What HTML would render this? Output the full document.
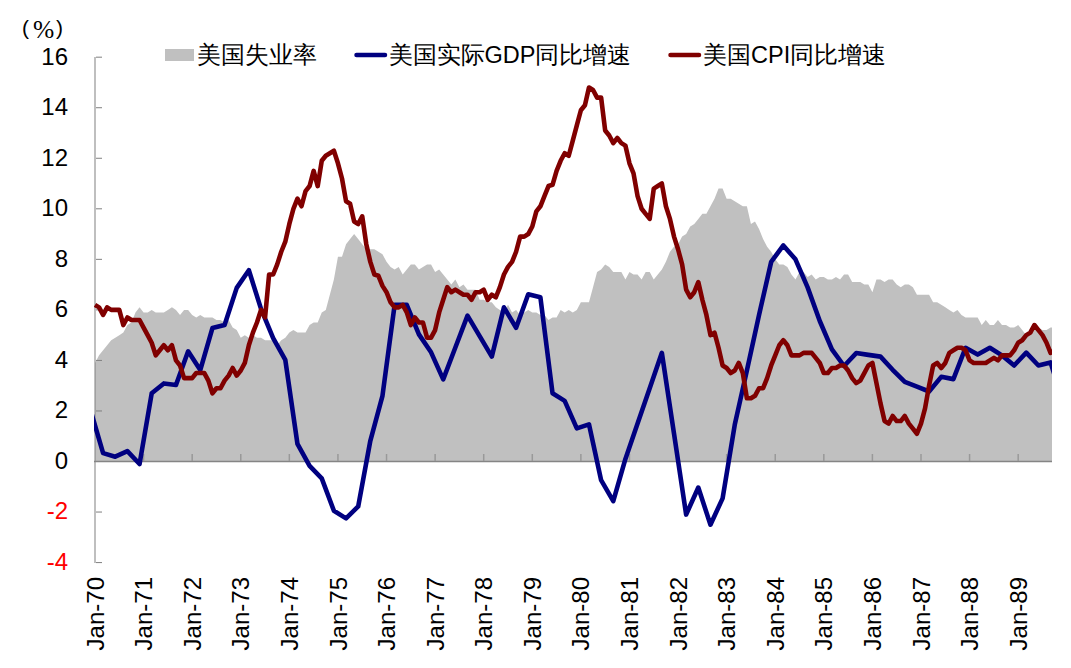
<!DOCTYPE html>
<html><head><meta charset="utf-8"><style>
html,body{margin:0;padding:0;background:#fff;}
body{width:1071px;height:668px;overflow:hidden;position:relative;font-family:"Liberation Sans",sans-serif;}
svg{position:absolute;left:0;top:0;}
svg text{font-family:"Liberation Sans",sans-serif;}
</style></head><body>
<svg width="1071" height="668" viewBox="0 0 1071 668">
<defs><clipPath id="pc"><rect x="94" y="40" width="958" height="560"/></clipPath></defs>
<path d="M95.00,461.50 L95.00,362.95 L99.05,355.37 L103.10,350.31 L107.15,345.26 L111.20,340.20 L115.25,337.68 L119.29,335.15 L123.34,332.62 L127.39,325.04 L131.44,322.51 L135.49,312.41 L139.54,307.35 L143.59,312.41 L147.64,312.41 L151.69,309.88 L155.74,312.41 L159.78,312.41 L163.83,312.41 L167.88,309.88 L171.93,307.35 L175.98,309.88 L180.03,314.93 L184.08,309.88 L188.13,309.88 L192.18,314.93 L196.23,317.46 L200.27,314.93 L204.32,317.46 L208.37,317.46 L212.42,317.46 L216.47,319.99 L220.52,319.99 L224.57,322.51 L228.62,319.99 L232.67,327.57 L236.72,330.10 L240.76,337.68 L244.81,335.15 L248.86,337.68 L252.91,335.15 L256.96,337.68 L261.01,337.68 L265.06,340.20 L269.11,340.20 L273.16,340.20 L277.21,345.26 L281.25,340.20 L285.30,337.68 L289.35,332.62 L293.40,330.10 L297.45,332.62 L301.50,332.62 L305.55,332.62 L309.60,325.04 L313.65,322.51 L317.70,322.51 L321.74,312.41 L325.79,309.88 L329.84,294.72 L333.89,279.56 L337.94,256.81 L341.99,256.81 L346.04,244.18 L350.09,239.12 L354.14,234.07 L358.19,239.12 L362.23,244.18 L366.28,249.23 L370.33,249.23 L374.38,249.23 L378.43,251.76 L382.48,254.29 L386.53,261.87 L390.58,266.92 L394.63,269.45 L398.68,266.92 L402.72,274.50 L406.77,269.45 L410.82,264.39 L414.87,264.39 L418.92,269.45 L422.97,266.92 L427.02,264.39 L431.07,264.39 L435.12,271.98 L439.17,269.45 L443.21,274.50 L447.26,279.56 L451.31,284.61 L455.36,279.56 L459.41,287.14 L463.46,284.61 L467.51,289.66 L471.56,289.66 L475.61,289.66 L479.66,299.77 L483.70,299.77 L487.75,302.30 L491.80,302.30 L495.85,307.35 L499.90,309.88 L503.95,312.41 L508.00,304.83 L512.05,312.41 L516.10,309.88 L520.14,314.93 L524.19,312.41 L528.24,309.88 L532.29,312.41 L536.34,312.41 L540.39,314.93 L544.44,314.93 L548.49,319.99 L552.54,317.46 L556.59,317.46 L560.63,309.88 L564.68,312.41 L568.73,309.88 L572.78,312.41 L576.83,309.88 L580.88,302.30 L584.93,302.30 L588.98,302.30 L593.03,287.14 L597.08,271.98 L601.12,269.45 L605.17,264.39 L609.22,266.92 L613.27,271.98 L617.32,271.98 L621.37,271.98 L625.42,279.56 L629.47,271.98 L633.52,274.50 L637.57,274.50 L641.62,279.56 L645.66,271.98 L649.71,271.98 L653.76,279.56 L657.81,274.50 L661.86,269.45 L665.91,261.87 L669.96,251.76 L674.01,246.71 L678.06,244.18 L682.11,236.60 L686.15,234.07 L690.20,226.49 L694.25,223.96 L698.30,218.91 L702.35,213.85 L706.40,213.85 L710.45,206.27 L714.50,198.69 L718.55,188.58 L722.60,188.58 L726.64,198.69 L730.69,198.69 L734.74,201.22 L738.79,203.75 L742.84,206.27 L746.89,206.27 L750.94,223.96 L754.99,221.44 L759.04,229.02 L763.09,239.12 L767.13,246.71 L771.18,251.76 L775.23,259.34 L779.28,264.39 L783.33,264.39 L787.38,266.92 L791.43,274.50 L795.48,279.56 L799.53,271.98 L803.58,271.98 L807.62,277.03 L811.67,274.50 L815.72,279.56 L819.77,277.03 L823.82,277.03 L827.87,279.56 L831.92,279.56 L835.97,277.03 L840.02,279.56 L844.07,274.50 L848.11,274.50 L852.16,282.08 L856.21,282.08 L860.26,282.08 L864.31,284.61 L868.36,284.61 L872.41,292.19 L876.46,279.56 L880.51,279.56 L884.56,282.08 L888.60,279.56 L892.65,279.56 L896.70,284.61 L900.75,287.14 L904.80,284.61 L908.85,284.61 L912.90,287.14 L916.95,294.72 L921.00,294.72 L925.05,294.72 L929.09,294.72 L933.14,302.30 L937.19,302.30 L941.24,304.83 L945.29,307.35 L949.34,309.88 L953.39,312.41 L957.44,309.88 L961.49,314.93 L965.54,317.46 L969.58,317.46 L973.63,317.46 L977.68,317.46 L981.73,325.04 L985.78,319.99 L989.83,325.04 L993.88,325.04 L997.93,319.99 L1001.98,325.04 L1006.03,325.04 L1010.07,327.57 L1014.12,327.57 L1018.17,325.04 L1022.22,330.10 L1026.27,335.15 L1030.32,330.10 L1034.37,330.10 L1038.42,327.57 L1042.47,330.10 L1046.52,330.10 L1050.56,327.57 L1052.00,327.57 L1052.00,461.50 Z" fill="#C0C0C0"/>
<rect x="94" y="57" width="2" height="506" fill="#808080" fill-opacity="0.5"/>
<rect x="96" y="56.68" width="6" height="1" fill="#808080"/><rect x="96" y="107.22" width="6" height="1" fill="#808080"/><rect x="96" y="157.76" width="6" height="1" fill="#808080"/><rect x="96" y="208.30" width="6" height="1" fill="#808080"/><rect x="96" y="258.84" width="6" height="1" fill="#808080"/><rect x="96" y="309.38" width="6" height="1" fill="#808080"/><rect x="96" y="359.92" width="6" height="1" fill="#808080"/><rect x="96" y="410.46" width="6" height="1" fill="#808080"/><rect x="96" y="461.00" width="6" height="1" fill="#808080"/><rect x="96" y="511.54" width="6" height="1" fill="#808080"/><rect x="96" y="562.08" width="6" height="1" fill="#808080"/>
<rect x="94" y="460.75" width="958" height="1.5" fill="#858585"/>
<rect x="142.84" y="454" width="1.5" height="7" fill="#999"/><rect x="191.43" y="454" width="1.5" height="7" fill="#999"/><rect x="240.01" y="454" width="1.5" height="7" fill="#999"/><rect x="288.60" y="454" width="1.5" height="7" fill="#999"/><rect x="337.19" y="454" width="1.5" height="7" fill="#999"/><rect x="385.78" y="454" width="1.5" height="7" fill="#999"/><rect x="434.37" y="454" width="1.5" height="7" fill="#999"/><rect x="482.95" y="454" width="1.5" height="7" fill="#999"/><rect x="531.54" y="454" width="1.5" height="7" fill="#999"/><rect x="580.13" y="454" width="1.5" height="7" fill="#999"/><rect x="628.72" y="454" width="1.5" height="7" fill="#999"/><rect x="677.31" y="454" width="1.5" height="7" fill="#999"/><rect x="725.89" y="454" width="1.5" height="7" fill="#999"/><rect x="774.48" y="454" width="1.5" height="7" fill="#999"/><rect x="823.07" y="454" width="1.5" height="7" fill="#999"/><rect x="871.66" y="454" width="1.5" height="7" fill="#999"/><rect x="920.25" y="454" width="1.5" height="7" fill="#999"/><rect x="968.83" y="454" width="1.5" height="7" fill="#999"/><rect x="1017.42" y="454" width="1.5" height="7" fill="#999"/>
<g clip-path="url(#pc)" fill="none" stroke-linejoin="round" stroke-width="4.6">
<path d="M90.95,411.47 L103.10,453.16 L115.25,456.70 L127.39,451.14 L139.54,464.03 L151.69,393.27 L163.83,383.42 L175.98,384.93 L188.13,351.32 L200.27,370.02 L212.42,328.07 L224.57,325.04 L236.72,287.90 L248.86,270.21 L261.01,308.87 L273.16,338.18 L285.30,359.91 L297.45,443.81 L309.60,465.80 L321.74,478.43 L333.89,510.78 L346.04,518.36 L358.19,506.48 L370.33,440.78 L382.48,395.80 L394.63,304.83 L406.77,304.83 L418.92,334.39 L431.07,352.33 L443.21,379.37 L455.36,347.53 L467.51,315.69 L479.66,336.16 L491.80,356.63 L503.95,307.35 L516.10,327.82 L528.24,294.21 L540.39,297.25 L552.54,393.27 L564.68,400.85 L576.83,428.40 L588.98,424.35 L601.12,480.20 L613.27,501.17 L625.42,458.97 L637.57,423.60 L649.71,388.22 L661.86,352.84 L674.01,433.70 L686.15,514.57 L698.30,487.53 L710.45,524.67 L722.60,498.39 L734.74,424.86 L746.89,370.53 L759.04,314.93 L771.18,261.87 L783.33,245.44 L795.48,259.34 L807.62,287.39 L819.77,321.00 L831.92,349.30 L844.07,365.98 L856.21,353.09 L868.36,354.86 L880.51,356.63 L892.65,369.77 L904.80,381.90 L916.95,386.70 L929.09,391.50 L941.24,376.85 L953.39,379.12 L965.54,347.78 L977.68,354.61 L989.83,347.78 L1001.98,355.37 L1014.12,365.47 L1026.27,352.59 L1038.42,365.47 L1050.56,362.44 L1062.71,400.85" stroke="#000080"/>
<path d="M95.00,304.83 L99.05,307.35 L103.10,314.93 L107.15,307.35 L111.20,309.88 L115.25,309.88 L119.29,309.88 L123.34,325.04 L127.39,317.46 L131.44,319.99 L135.49,319.99 L139.54,319.99 L143.59,327.57 L147.64,335.15 L151.69,342.73 L155.74,355.37 L159.78,350.31 L163.83,345.26 L167.88,350.31 L171.93,345.26 L175.98,360.42 L180.03,365.47 L184.08,378.11 L188.13,378.11 L192.18,378.11 L196.23,373.06 L200.27,373.06 L204.32,373.06 L208.37,380.64 L212.42,393.27 L216.47,388.22 L220.52,388.22 L224.57,380.64 L228.62,375.58 L232.67,368.00 L236.72,375.58 L240.76,370.53 L244.81,362.95 L248.86,345.26 L252.91,332.62 L256.96,322.51 L261.01,309.88 L265.06,317.46 L269.11,274.50 L273.16,274.50 L277.21,264.39 L281.25,251.76 L285.30,241.65 L289.35,223.96 L293.40,208.80 L297.45,198.69 L301.50,206.27 L305.55,191.11 L309.60,186.06 L313.65,170.89 L317.70,186.06 L321.74,160.79 L325.79,155.73 L329.84,153.21 L333.89,150.68 L337.94,163.31 L341.99,178.48 L346.04,201.22 L350.09,203.75 L354.14,221.44 L358.19,223.96 L362.23,216.38 L366.28,244.18 L370.33,261.87 L374.38,274.50 L378.43,275.77 L382.48,285.87 L386.53,292.19 L390.58,302.30 L394.63,307.35 L398.68,307.35 L402.72,304.83 L406.77,312.41 L410.82,325.04 L414.87,317.46 L418.92,322.51 L422.97,322.51 L427.02,337.68 L431.07,337.68 L435.12,330.10 L439.17,312.41 L443.21,299.77 L447.26,287.14 L451.31,292.19 L455.36,289.66 L459.41,292.19 L463.46,294.72 L467.51,294.72 L471.56,299.77 L475.61,292.19 L479.66,292.19 L483.70,289.66 L487.75,299.77 L491.80,294.72 L495.85,297.25 L499.90,287.14 L503.95,274.50 L508.00,266.92 L512.05,261.87 L516.10,251.76 L520.14,236.60 L524.19,236.60 L528.24,234.07 L532.29,226.49 L536.34,211.33 L540.39,206.27 L544.44,196.17 L548.49,186.06 L552.54,184.79 L556.59,170.89 L560.63,160.79 L564.68,153.21 L568.73,155.73 L572.78,140.57 L576.83,125.41 L580.88,110.25 L584.93,105.19 L588.98,87.50 L593.03,90.03 L597.08,97.61 L601.12,97.61 L605.17,130.46 L609.22,135.52 L613.27,143.10 L617.32,138.04 L621.37,143.10 L625.42,145.62 L629.47,163.31 L633.52,173.42 L637.57,196.17 L641.62,208.80 L645.66,213.85 L649.71,218.91 L653.76,188.58 L657.81,186.06 L661.86,183.53 L665.91,206.27 L669.96,218.91 L674.01,236.60 L678.06,249.23 L682.11,264.39 L686.15,289.66 L690.20,297.25 L694.25,292.19 L698.30,282.08 L702.35,299.77 L706.40,314.93 L710.45,335.15 L714.50,332.62 L718.55,347.78 L722.60,365.47 L726.64,368.00 L730.69,373.06 L734.74,370.53 L738.79,362.95 L742.84,373.06 L746.89,398.32 L750.94,398.32 L754.99,395.80 L759.04,388.22 L763.09,388.22 L767.13,378.11 L771.18,365.47 L775.23,355.37 L779.28,345.26 L783.33,340.20 L787.38,345.26 L791.43,355.37 L795.48,355.37 L799.53,355.37 L803.58,352.84 L807.62,352.84 L811.67,352.84 L815.72,357.89 L819.77,362.95 L823.82,373.06 L827.87,373.06 L831.92,368.00 L835.97,368.00 L840.02,365.47 L844.07,365.47 L848.11,370.53 L852.16,378.11 L856.21,383.16 L860.26,380.64 L864.31,373.06 L868.36,365.47 L872.41,362.95 L876.46,383.16 L880.51,403.38 L884.56,421.07 L888.60,423.60 L892.65,416.01 L896.70,421.07 L900.75,421.07 L904.80,416.01 L908.85,423.60 L912.90,428.65 L916.95,433.70 L921.00,423.60 L925.05,408.43 L929.09,385.69 L933.14,365.47 L937.19,362.95 L941.24,368.00 L945.29,362.95 L949.34,352.84 L953.39,350.31 L957.44,347.78 L961.49,347.78 L965.54,350.31 L969.58,360.42 L973.63,362.95 L977.68,362.95 L981.73,362.95 L985.78,362.95 L989.83,360.42 L993.88,357.89 L997.93,360.42 L1001.98,355.37 L1006.03,355.37 L1010.07,355.37 L1014.12,350.31 L1018.17,342.73 L1022.22,340.20 L1026.27,335.15 L1030.32,332.62 L1034.37,325.04 L1038.42,330.10 L1042.47,335.15 L1046.52,342.73 L1050.56,352.84 L1054.61,350.31 L1058.66,345.26 L1062.71,345.26" stroke="#800000"/>
</g>
<g font-size="24"><text x="68" y="64.58" text-anchor="end" fill="#000">16</text><text x="68" y="115.12" text-anchor="end" fill="#000">14</text><text x="68" y="165.66" text-anchor="end" fill="#000">12</text><text x="68" y="216.20" text-anchor="end" fill="#000">10</text><text x="68" y="266.74" text-anchor="end" fill="#000">8</text><text x="68" y="317.28" text-anchor="end" fill="#000">6</text><text x="68" y="367.82" text-anchor="end" fill="#000">4</text><text x="68" y="418.36" text-anchor="end" fill="#000">2</text><text x="68" y="468.90" text-anchor="end" fill="#000">0</text><text x="68" y="519.44" text-anchor="end" fill="#FF0000">-2</text><text x="68" y="569.98" text-anchor="end" fill="#FF0000">-4</text></g>
<g font-size="24"><text transform="translate(95.00,577) rotate(-90)" text-anchor="end" x="0" y="8.6">Jan-70</text><text transform="translate(143.59,577) rotate(-90)" text-anchor="end" x="0" y="8.6">Jan-71</text><text transform="translate(192.18,577) rotate(-90)" text-anchor="end" x="0" y="8.6">Jan-72</text><text transform="translate(240.76,577) rotate(-90)" text-anchor="end" x="0" y="8.6">Jan-73</text><text transform="translate(289.35,577) rotate(-90)" text-anchor="end" x="0" y="8.6">Jan-74</text><text transform="translate(337.94,577) rotate(-90)" text-anchor="end" x="0" y="8.6">Jan-75</text><text transform="translate(386.53,577) rotate(-90)" text-anchor="end" x="0" y="8.6">Jan-76</text><text transform="translate(435.12,577) rotate(-90)" text-anchor="end" x="0" y="8.6">Jan-77</text><text transform="translate(483.70,577) rotate(-90)" text-anchor="end" x="0" y="8.6">Jan-78</text><text transform="translate(532.29,577) rotate(-90)" text-anchor="end" x="0" y="8.6">Jan-79</text><text transform="translate(580.88,577) rotate(-90)" text-anchor="end" x="0" y="8.6">Jan-80</text><text transform="translate(629.47,577) rotate(-90)" text-anchor="end" x="0" y="8.6">Jan-81</text><text transform="translate(678.06,577) rotate(-90)" text-anchor="end" x="0" y="8.6">Jan-82</text><text transform="translate(726.64,577) rotate(-90)" text-anchor="end" x="0" y="8.6">Jan-83</text><text transform="translate(775.23,577) rotate(-90)" text-anchor="end" x="0" y="8.6">Jan-84</text><text transform="translate(823.82,577) rotate(-90)" text-anchor="end" x="0" y="8.6">Jan-85</text><text transform="translate(872.41,577) rotate(-90)" text-anchor="end" x="0" y="8.6">Jan-86</text><text transform="translate(921.00,577) rotate(-90)" text-anchor="end" x="0" y="8.6">Jan-87</text><text transform="translate(969.58,577) rotate(-90)" text-anchor="end" x="0" y="8.6">Jan-88</text><text transform="translate(1018.17,577) rotate(-90)" text-anchor="end" x="0" y="8.6">Jan-89</text></g>
<text x="22" y="34.6" font-size="21">(</text><text x="33" y="37.6" font-size="25.5" style="font-family:'Liberation Serif',serif">%</text><text x="56" y="34.6" font-size="21">)</text>
<rect x="165" y="49" width="29" height="12" fill="#C0C0C0"/>
<line x1="356.5" y1="55" x2="385" y2="55" stroke="#000080" stroke-width="4.5" stroke-linecap="round"/>
<line x1="670.5" y1="55" x2="699" y2="55" stroke="#800000" stroke-width="4.5" stroke-linecap="round"/>
<g font-size="23.5" font-weight="500">
<text x="197" y="63">美国失业率</text>
<text x="388.5" y="63">美国实际GDP同比增速</text>
<text x="703" y="63">美国CPI同比增速</text>
</g>
</svg>
</body></html>
